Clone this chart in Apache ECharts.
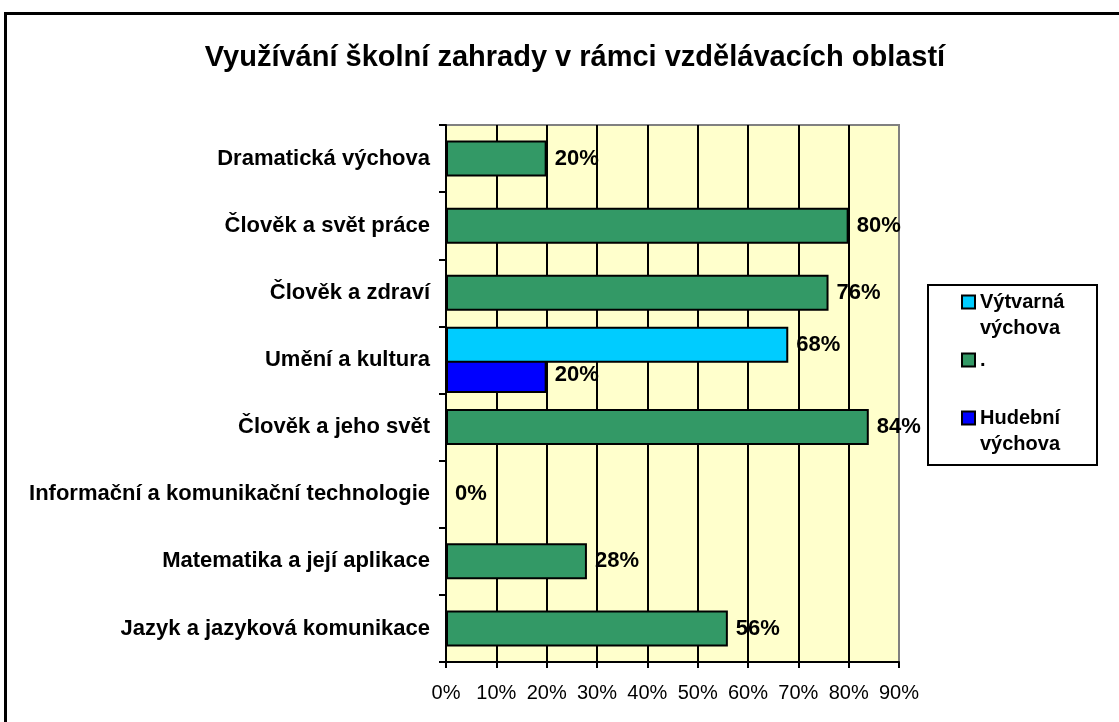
<!DOCTYPE html>
<html>
<head>
<meta charset="utf-8">
<script src="https://cdn.jsdelivr.net/npm/echarts@6/dist/echarts.min.js"></script>
<style>
  html, body { margin: 0; padding: 0; background: #fff; }
  #chart { width: 1119px; height: 722px; }
</style>
</head>
<body>
<div id="chart"></div>
<script>
// categories top to bottom
const categories = [
  'Dramatická výchova',
  'Člověk a svět práce',
  'Člověk a zdraví',
  'Umění a kultura',
  'Člověk a jeho svět',
  'Informační a komunikační technologie',
  'Matematika a její aplikace',
  'Jazyk a jazyková komunikace'
]
const seriesNames = ['Výtvarná\nvýchova', '.', 'Hudební\nvýchova']
const vytvarnaValues = [null, null, null, 68, null, null, null, null]
const mainValues = [20, 80, 76, null, 84, 0, 28, 56]
const hudebniValues = [null, null, null, 20, null, null, null, null]
const xTicks = [0, 10, 20, 30, 40, 50, 60, 70, 80, 90]

const font = 'Liberation Sans, Arial, sans-serif'
const labelStyle = {
  show: true,
  position: 'right',
  distance: 8,
  formatter: '{c}%',
  color: '#000',
  fontFamily: font,
  fontWeight: 'bold',
  fontSize: 22
}

function makeSeries(name, data, color, z) {
  return {
    name,
    type: 'bar',
    data,
    barWidth: 36,
    barGap: '-58%',
    z,
    itemStyle: { color, borderColor: '#000', borderWidth: 2 },
    label: labelStyle
  }
}

const chart = echarts.init(document.getElementById('chart'))
chart.setOption({
  animation: false,
  backgroundColor: '#fff',
  graphic: [{
    type: 'rect',
    z: -10,
    shape: { x: 5.5, y: 13.5, width: 1200, height: 800 },
    style: { fill: 'none', stroke: '#000', lineWidth: 3 }
  }, {
    type: 'rect',
    z: 1,
    shape: { x: 928, y: 285, width: 169, height: 180 },
    style: { fill: '#fff', stroke: '#000', lineWidth: 2 }
  }],
  title: {
    text: 'Využívání školní zahrady v rámci vzdělávacích oblastí',
    left: 570,
    textAlign: 'center',
    top: 38,
    textStyle: { fontFamily: font, fontWeight: 'bold', fontSize: 29, color: '#000' }
  },
  legend: {
    orient: 'vertical',
    left: 961,
    top: 263,
    padding: 0,
    itemGap: 6,
    itemWidth: 13,
    itemHeight: 13,
    z: 5,
    icon: 'rect',
    data: seriesNames,
    // two-line names: keep the first line level with the marker
    formatter: (name) => (name.indexOf('\n') >= 0 ? ' \n' + name : name),
    textStyle: { fontFamily: font, fontWeight: 'bold', fontSize: 20, lineHeight: 26, color: '#000' }
  },
  grid: {
    left: 446, right: 220, top: 125, bottom: 60,
    show: true,
    backgroundColor: '#FFFFCC',
    borderColor: '#808080',
    borderWidth: 2
  },
  xAxis: {
    type: 'value',
    min: xTicks[0],
    max: xTicks[xTicks.length - 1],
    interval: 10,
    axisLine: { show: true, lineStyle: { color: '#000', width: 2 } },
    axisTick: { show: true, length: 6, lineStyle: { color: '#000', width: 2 } },
    axisLabel: { formatter: '{value}%', color: '#000', fontFamily: font, fontSize: 20, margin: 21 },
    splitLine: { show: true, showMaxLine: false, lineStyle: { color: '#000', width: 2 } }
  },
  yAxis: {
    type: 'category',
    inverse: true,
    data: categories,
    axisLine: { show: true, lineStyle: { color: '#000', width: 2 } },
    axisTick: { show: true, length: 7, lineStyle: { color: '#000', width: 2 } },
    axisLabel: { color: '#000', fontFamily: font, fontWeight: 'bold', fontSize: 22, margin: 16 },
    splitLine: { show: false }
  },
  series: [
    makeSeries(seriesNames[0], vytvarnaValues, '#00CCFF', 4),
    makeSeries(seriesNames[1], mainValues, '#339966', 3),
    makeSeries(seriesNames[2], hudebniValues, '#0000FF', 2)
  ]
})
</script>
</body>
</html>
